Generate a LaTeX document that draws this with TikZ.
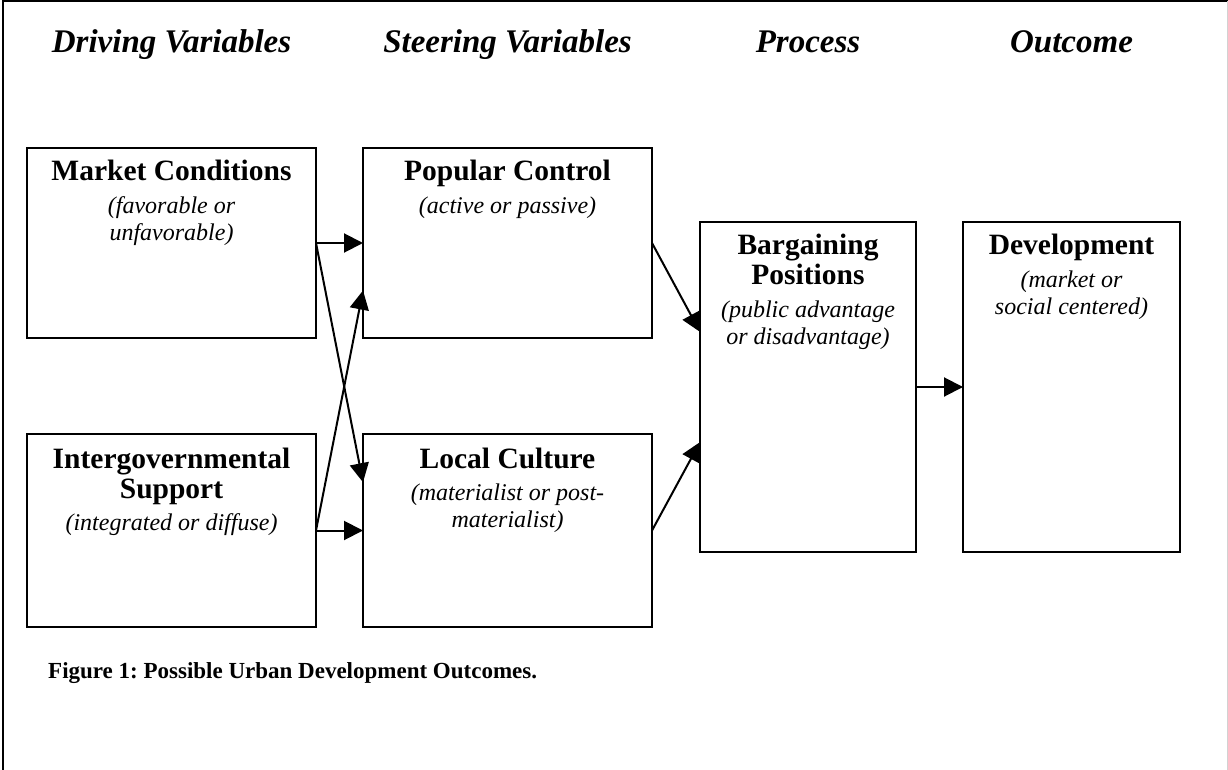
\documentclass[tikz,border=0pt]{standalone}
\usepackage{fontspec}
\setmainfont{Liberation Serif}
\usetikzlibrary{arrows.meta,calc}
\frenchspacing
\begin{document}
\begin{tikzpicture}[x=1pt,y=-1pt,
  box/.style={draw,line width=2pt,inner sep=0pt,outer sep=0pt},
  widebox/.style={box,minimum width=289pt},
  narrowbox/.style={box,minimum width=216pt,minimum height=330pt},
  conn/.style={line width=2pt,-{Triangle[length=19pt,width=19pt]}},
  head/.style={font=\fontsize{33}{38}\selectfont\bfseries\itshape,anchor=mid,inner sep=0pt},
  btitle/.style={font=\fontsize{29.5}{34}\selectfont\bfseries,anchor=mid,inner sep=0pt},
  bnote/.style={font=\fontsize{24}{29}\selectfont\itshape,anchor=mid,inner sep=0pt},
  caption/.style={font=\fontsize{23}{27}\selectfont\bfseries,anchor=mid west,inner sep=0pt}]
\useasboundingbox (0,0) rectangle (1228,770);
\fill[white] (0,0) rectangle (1228,770);
% page frame
\draw[line width=2pt] (2.5,770) -- (2.5,1.5) -- (1228,1.5);
\draw[gray!35,line width=1pt] (1227.5,1.5) -- (1227.5,770);

% column headings
\node[head] (h1) at (171.5,50) {Driving Variables};
\node[head] (h2) at (507.5,50) {Steering Variables};
\node[head] (h3) at (808,50) {Process};
\node[head] (h4) at (1071.5,50) {Outcome};

% boxes
\node[widebox,minimum height=190pt] (mc) at (171.5,243) {};
\node[widebox,minimum height=190pt] (pc) at (507.5,243) {};
\node[widebox,minimum height=193pt] (is) at (171.5,530.5) {};
\node[widebox,minimum height=193pt] (lc) at (507.5,530.5) {};
\node[narrowbox] (bp) at (808,387) {};
\node[narrowbox,minimum width=217pt] (dev) at (1071.5,387) {};

% box texts
\node[btitle] (mc-a) at ($(mc.north)+(0,30)$) {Market Conditions};
\node[bnote]  (mc-b) at ($(mc.north)+(0,63)$) {(favorable or};
\node[bnote]  (mc-c) at ($(mc.north)+(0,90)$) {unfavorable)};

\node[btitle] (pc-a) at ($(pc.north)+(0,30)$) {Popular Control};
\node[bnote]  (pc-b) at ($(pc.north)+(0,63)$) {(active or passive)};

\node[btitle] (is-a) at ($(is.north)+(0,32)$) {Intergovernmental};
\node[btitle] (is-b) at ($(is.north)+(0,62)$) {Support};
\node[bnote]  (is-c) at ($(is.north)+(0,94)$) {(integrated or diffuse)};

\node[btitle] (lc-a) at ($(lc.north)+(0,32)$) {Local Culture};
\node[bnote]  (lc-b) at ($(lc.north)+(0,64)$) {(materialist or post-};
\node[bnote]  (lc-c) at ($(lc.north)+(0,91)$) {materialist)};

\node[btitle] (bp-a) at ($(bp.north)+(0,30)$) {Bargaining};
\node[btitle] (bp-b) at ($(bp.north)+(0,60)$) {Positions};
\node[bnote]  (bp-c) at ($(bp.north)+(0,93)$) {(public advantage};
\node[bnote]  (bp-d) at ($(bp.north)+(0,120)$) {or disadvantage)};

\node[btitle] (dev-a) at ($(dev.north)+(0,30)$) {Development};
\node[bnote]  (dev-b) at ($(dev.north)+(0,63)$) {(market or};
\node[bnote]  (dev-c) at ($(dev.north)+(0,90)$) {social centered)};

% connector end points on box sides
\coordinate (lc-in) at ($(lc.north west)!0.25!(lc.south west)$);
\coordinate (pc-in) at ($(pc.north west)!0.75!(pc.south west)$);
\coordinate (bp-in1) at ($(bp.north west)!0.333!(bp.south west)$);
\coordinate (bp-in2) at ($(bp.north west)!0.667!(bp.south west)$);

% connectors
\draw[conn] (mc.east) -- (pc.west);
\draw[conn] (mc.east) -- (lc-in);
\draw[conn] (is.east) -- (pc-in);
\draw[conn] (is.east) -- (lc.west);
\draw[conn] (pc.east) -- (bp-in1);
\draw[conn] (lc.east) -- (bp-in2);
\draw[conn] (bp.east) -- (dev.west);

% caption
\node[caption] (cap) at (48,676) {Figure 1: Possible Urban Development Outcomes.};
\end{tikzpicture}
\end{document}
